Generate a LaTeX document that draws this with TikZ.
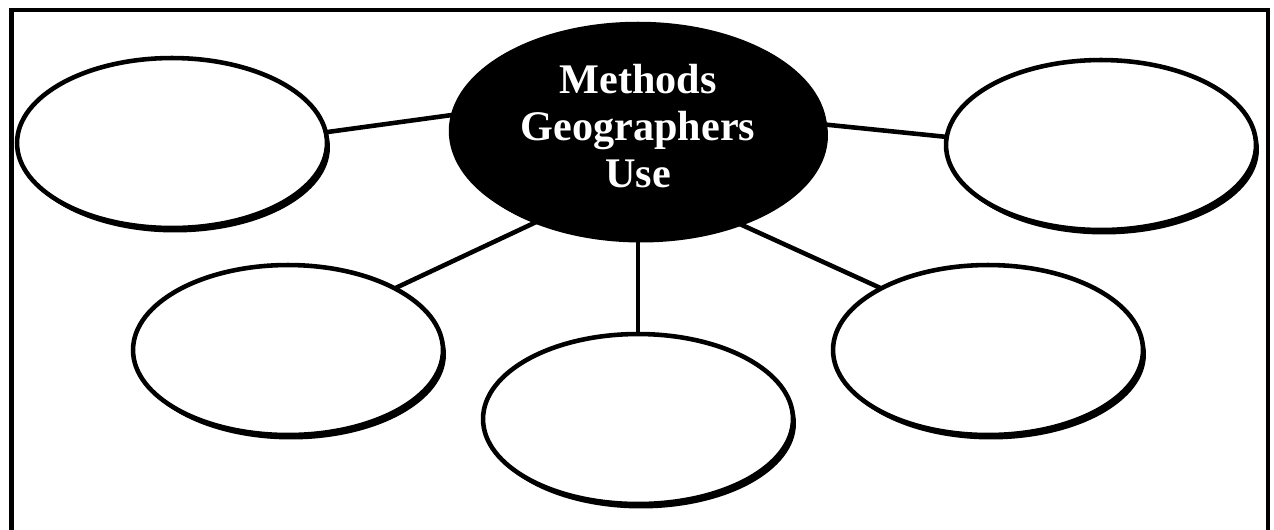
\documentclass[tikz,border=0pt]{standalone}
\usepackage{fontspec}
\setmainfont{Liberation Serif}
\usetikzlibrary{shapes.geometric,shadows}
\begin{document}
\begin{tikzpicture}
  [x=0.02cm,y=-0.02cm,line width=2.6pt,
   every node/.style={ellipse,draw,fill=white,inner sep=0pt,outer sep=0pt,
     minimum width=6.2cm,minimum height=3.4cm,
     drop shadow={shadow xshift=0.06cm,shadow yshift=-0.09cm,fill=black,opacity=1}}]
\useasboundingbox (0,0) rectangle (1274,529);
\draw (11.5,560) -- (11.5,10) -- (1268,10) -- (1268,560);

\node (topic)[fill=black,text=white,minimum width=7.48cm,minimum height=4.28cm,
  align=center,text depth=0.2cm,font=\fontsize{24}{26.7}\selectfont\bfseries,
  drop shadow={opacity=0}] at (638,131)
  {Methods\\Geographers\\Use};
\node (m1) at (172,143) {};
\node (m2) at (1101,145) {};
\node (m3) at (288,350) {};
\node (m4) at (638,419) {};
\node (m5) at (988,350) {};

\path (topic.175.7) edge (m1.4.8)
(topic.2.8) edge (m2.177.4)
(topic.222.8) edge (m3.30.6)
(topic.270) edge (m4.90)
(topic.317) edge (m5.150);
\end{tikzpicture}
\end{document}
